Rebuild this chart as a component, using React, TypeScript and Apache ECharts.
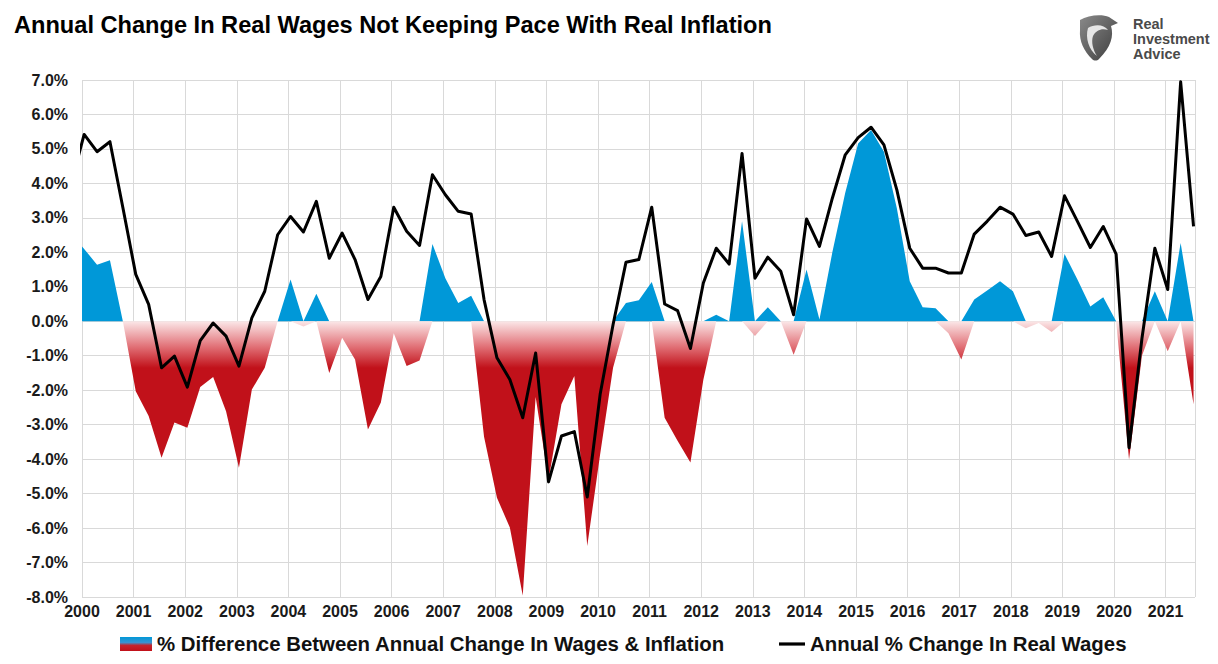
import React, { useEffect, useRef } from "react";
import * as echarts from "echarts";

// Quarter start dates (first one, 1999 Q4, lies just left of the axis and is clipped)
const quarterStarts: string[] = (() => {
  const out: string[] = ["1999-10"];
  for (let y = 2000; y <= 2021; y++) {
    for (const m of ["01", "04", "07", "10"]) {
      if (y === 2021 && m === "10") continue;
      out.push(`${y}-${m}`);
    }
  }
  return out;
})();

// % Difference Between Annual Change In Wages & Inflation
const diffValues: number[] = [
  2.5, 2.1, 1.64, 1.77, 0, -2.03, -2.75, -3.96, -2.94, -3.09,
  -1.91, -1.62, -2.61, -4.25, -1.98, -1.35, 0, 1.21, -0.15, 0.8,
  -1.5, -0.48, -1.11, -3.14, -2.36, -0.35, -1.3, -1.14, 2.24, 1.25,
  0.53, 0.74, -3.35, -5.12, -5.98, -7.96, -2.2, -4.6, -2.41, -1.59,
  -6.52, -3.86, -1.35, 0.53, 0.61, 1.14, -2.8, -3.47, -4.1, -1.7,
  0.19, 0, 2.9, -0.43, 0.41, 0, -0.97, 1.5, 0.05, 2.0,
  3.73, 5.16, 5.55, 4.92, 3.28, 1.16, 0.41, 0.38, -0.35, -1.11,
  0.63, 0.89, 1.16, 0.87, -0.2, -0.05, -0.31, 1.95, 1.21, 0.43,
  0.7, 0, -4.01, -1.0, 0.87, -0.87, 2.27, -2.41,
];

// Annual % Change In Real Wages
const wageValues: number[] = [
  4.0, 5.42, 4.92, 5.21, 3.3, 1.36, 0.49, -1.35, -1.01, -1.91,
  -0.56, -0.05, -0.43, -1.3, 0.1, 0.87, 2.51, 3.04, 2.59, 3.48,
  1.83, 2.56, 1.79, 0.63, 1.3, 3.31, 2.61, 2.2, 4.25, 3.67,
  3.19, 3.11, 0.63, -1.06, -1.69, -2.8, -0.92, -4.66, -3.33, -3.2,
  -5.1, -2.12, -0.1, 1.71, 1.79, 3.31, 0.5, 0.31, -0.79, 1.11,
  2.12, 1.66, 4.87, 1.25, 1.86, 1.45, 0.19, 2.97, 2.17, 3.57,
  4.83, 5.33, 5.63, 5.12, 3.81, 2.12, 1.54, 1.54, 1.4, 1.4,
  2.53, 2.9, 3.31, 3.11, 2.49, 2.59, 1.88, 3.64, 2.9, 2.14,
  2.75, 1.95, -3.67, -0.5, 2.12, 0.92, 6.95, 2.75,
];

const DIFF_NAME = "% Difference Between Annual Change In Wages & Inflation";
const WAGE_NAME = "Annual % Change In Real Wages";
const TITLE = "Annual Change In Real Wages Not Keeping Pace With Real Inflation";
const LOGO_TEXT = "Real\nInvestment\nAdvice";

// Excel date axis with monthly base unit: a point sits in the middle of its month
const toYear = (q: string) => {
  const [y, m] = q.split("-").map(Number);
  return y + (m - 1) / 12 + 1 / 24;
};

const FONT = "'Liberation Sans', Arial, Helvetica, sans-serif";
const BLUE = "#0098d8";
const RED = "#c1111a";

const EAGLE_OUTER =
  "M2,6 C10,1 24,0 31,3 L40,9 L33,12 C36,22 33,33 21,45 C19,47 16,47 14,45 C6,37 1,27 2,16 Z";
const EAGLE_INNER =
  "M10,14 C16,10 26,10 30,16 C24,14 18,16 15,22 C13,28 15,36 19,42 C11,36 7,24 10,14 Z";

export default function App() {
  const ref = useRef<HTMLDivElement>(null);

  useEffect(() => {
    if (!ref.current) return;
    const chart = echarts.init(ref.current, undefined, { renderer: "svg" });

    echarts.graphic.registerShape("riaEagleOuter", echarts.graphic.extendPath(EAGLE_OUTER, {}) as any);
    echarts.graphic.registerShape("riaEagleInner", echarts.graphic.extendPath(EAGLE_INNER, {}) as any);

    const posData = quarterStarts.map((q, i) => [toYear(q), Math.max(diffValues[i], 0)]);
    const negData = quarterStarts.map((q, i) => [toYear(q), Math.min(diffValues[i], 0)]);
    const wageData = quarterStarts.map((q, i) => [toYear(q), wageValues[i]]);

    const redGradient = new echarts.graphic.LinearGradient(0, 0, 0, 1, [
      { offset: 0, color: "#fbe7e8" },
      { offset: 0.09, color: "#e2747a" },
      { offset: 0.17, color: RED },
      { offset: 1, color: RED },
    ]);
    const legendGradient = new echarts.graphic.LinearGradient(0, 0, 0, 1, [
      { offset: 0, color: BLUE },
      { offset: 0.4, color: "#3a93cf" },
      { offset: 0.6, color: "#c4242c" },
      { offset: 1, color: RED },
    ]);

    chart.setOption({
      animation: false,
      backgroundColor: "#ffffff",
      textStyle: { fontFamily: FONT },
      grid: { left: 82, right: 23, top: 80, bottom: 67, containLabel: false },
      xAxis: {
        type: "value",
        min: 2000,
        max: 2021.57,
        interval: 1,
        axisLine: { show: false },
        axisTick: { show: false },
        splitLine: { show: true, lineStyle: { color: "#d9d9d9", width: 1 } },
        axisLabel: {
          margin: 6,
          fontSize: 16,
          fontWeight: "bold",
          color: "#1a1a1a",
          fontFamily: FONT,
          showMaxLabel: false,
          formatter: (v: number) => (Math.abs(v - Math.round(v)) < 1e-6 ? String(Math.round(v)) : ""),
        },
      },
      yAxis: {
        type: "value",
        min: -8,
        max: 7,
        interval: 1,
        axisLine: { show: false },
        axisTick: { show: false },
        splitLine: { show: true, lineStyle: { color: "#d9d9d9", width: 1 } },
        axisLabel: {
          margin: 14,
          fontSize: 16,
          fontWeight: "bold",
          color: "#1a1a1a",
          fontFamily: FONT,
          formatter: (v: number) => v.toFixed(1) + "%",
        },
      },
      legend: {
        left: 120,
        top: 634,
        padding: 0,
        itemWidth: 32,
        itemHeight: 14,
        itemGap: 48,
        symbolKeepAspect: true,
        textStyle: { fontSize: 20.4, fontWeight: "bold", color: "#111", fontFamily: FONT },
        data: [
          { name: DIFF_NAME, icon: "rect", itemStyle: { color: legendGradient } },
          { name: WAGE_NAME, icon: "path://M0,0M6,5.4H32V8.6H6ZM32,14", itemStyle: { color: "#000" } },
        ],
        selectedMode: false,
      },
      series: [
        {
          name: DIFF_NAME,
          type: "line",
          data: posData,
          symbol: "none",
          silent: true,
          z: 2,
          itemStyle: { color: BLUE },
          lineStyle: { width: 0, opacity: 0 },
          areaStyle: { color: BLUE, opacity: 1 },
        },
        {
          name: DIFF_NAME,
          type: "line",
          data: negData,
          symbol: "none",
          silent: true,
          z: 2,
          itemStyle: { color: RED },
          lineStyle: { width: 0, opacity: 0 },
          areaStyle: { color: redGradient, opacity: 1 },
        },
        {
          name: WAGE_NAME,
          type: "line",
          data: wageData,
          symbol: "none",
          showSymbol: false,
          silent: true,
          z: 3,
          itemStyle: { color: "#000" },
          lineStyle: { color: "#000", width: 3, join: "round" },
        },
      ],
      graphic: [
        {
          type: "text",
          x: 14,
          y: 25,
          style: {
            text: TITLE,
            fontSize: 23.6,
            fontWeight: "bold",
            fontFamily: FONT,
            fill: "#000",
            verticalAlign: "middle",
          },
        },
        {
          type: "riaEagleOuter",
          x: 1078,
          y: 14,
          style: {
            fill: new echarts.graphic.LinearGradient(0, 0, 1, 1, [
              { offset: 0, color: "#8a8a8a" },
              { offset: 1, color: "#3c3c3c" },
            ]),
          },
        },
        {
          type: "riaEagleInner",
          x: 1078,
          y: 14,
          style: { fill: "#e6e6e6" },
        },
        {
          type: "text",
          x: 1133,
          y: 17,
          style: {
            text: LOGO_TEXT,
            fontSize: 14.5,
            lineHeight: 14.6,
            fontWeight: "bold",
            fontFamily: FONT,
            fill: "#4a4a4a",
            verticalAlign: "top",
          },
        },
      ],
    });

    return () => chart.dispose();
  }, []);

  return <div ref={ref} style={{ position: "fixed", left: 0, top: 0, width: 1218, height: 664 }} />;
}
